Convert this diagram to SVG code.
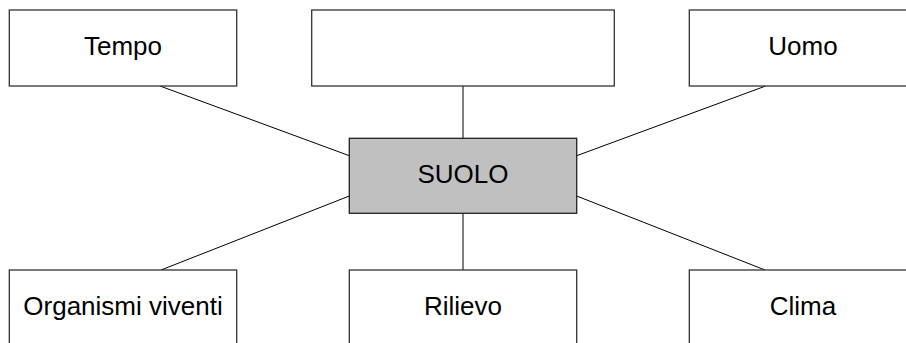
<svg xmlns="http://www.w3.org/2000/svg" width="906" height="343" viewBox="0 0 906 343">
<style>
.box{fill:#fff;stroke:#333;stroke-width:1.3}
.core{fill:#c0c0c0;stroke:#222;stroke-width:1.3}
.lbl{font-family:"Liberation Sans",Arial,sans-serif;font-size:26px;fill:#000;text-anchor:middle}
.cn{stroke:#000;stroke-width:1;fill:none}
</style>
<rect width="906" height="343" fill="#fff"/>
<g id="connectors">
<line class="cn" x1="160" y1="86" x2="349.3" y2="155.7"/>
<line class="cn" x1="463" y1="86" x2="463" y2="138.3"/>
<line class="cn" x1="765.7" y1="86" x2="576.7" y2="155.7"/>
<line class="cn" x1="161" y1="270" x2="349.3" y2="196"/>
<line class="cn" x1="463" y1="213.3" x2="463" y2="270"/>
<line class="cn" x1="765" y1="270" x2="576.7" y2="196"/>
</g>
<g id="tempo"><rect class="box" x="9.3" y="10" width="227.4" height="76"/><text class="lbl" x="123" y="55">Tempo</text></g>
<g id="blank"><rect class="box" x="311.7" y="10" width="302.6" height="76"/></g>
<g id="uomo"><rect class="box" x="689.3" y="10" width="227.4" height="76"/><text class="lbl" x="803" y="55">Uomo</text></g>
<g id="suolo"><rect class="core" x="349.3" y="138.3" width="227.4" height="75"/><text class="lbl" x="463" y="183.3">SUOLO</text></g>
<g id="organismi"><rect class="box" x="9.3" y="270" width="227.4" height="76"/><text class="lbl" x="123" y="315">Organismi viventi</text></g>
<g id="rilievo"><rect class="box" x="349.3" y="270" width="227.4" height="76"/><text class="lbl" x="463" y="315">Rilievo</text></g>
<g id="clima"><rect class="box" x="689.3" y="270" width="227.4" height="76"/><text class="lbl" x="803" y="315">Clima</text></g>
</svg>
